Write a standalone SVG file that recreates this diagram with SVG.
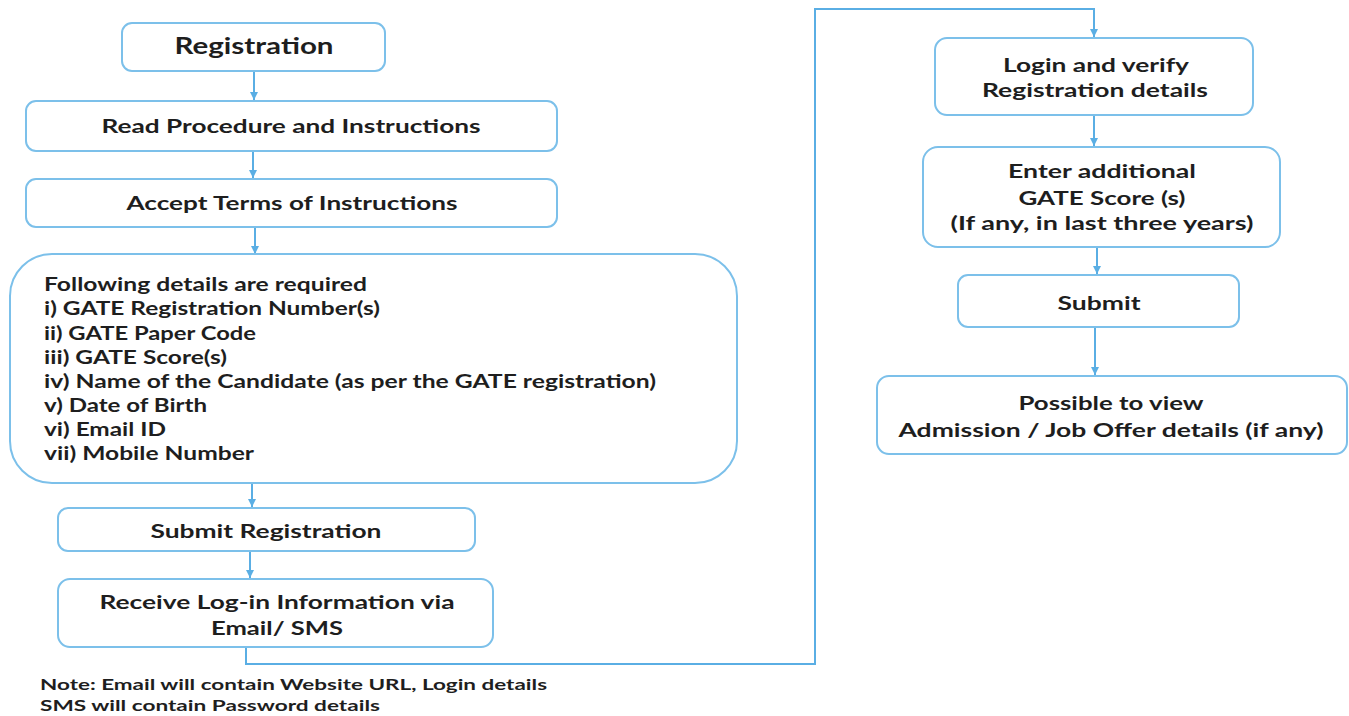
<svg xmlns="http://www.w3.org/2000/svg" width="1349" height="716" viewBox="0 0 1349 716">
<style>
.box{fill:#ffffff;stroke:#7cc0ea;stroke-width:2}
.t{font-family:Lato,"Open Sans","Liberation Sans",sans-serif;font-weight:bold;fill:#1e1e1e;text-anchor:middle}
.l{font-family:Lato,"Open Sans","Liberation Sans",sans-serif;font-weight:bold;fill:#1e1e1e}
.c{fill:none;stroke:#5aaee4;stroke-width:2}
</style>
<defs>
<marker id="ah" viewBox="0 0 10 10" refX="10" refY="5" markerWidth="4" markerHeight="4" orient="auto" markerUnits="strokeWidth">
<path d="M0,0 L10,5 L0,10 z" fill="#5aaee4"/>
</marker>
</defs>
<rect width="1349" height="716" fill="#ffffff"/>
<g id="connectors">
<path class="c" d="M254,71 V100" marker-end="url(#ah)"/>
<path class="c" d="M253,151 V178" marker-end="url(#ah)"/>
<path class="c" d="M255,227 V254" marker-end="url(#ah)"/>
<path class="c" d="M252,483 V507" marker-end="url(#ah)"/>
<path class="c" d="M250,551 V578" marker-end="url(#ah)"/>
<path class="c" d="M246,647 V664 H815 V9 H1094 V37" marker-end="url(#ah)"/>
<path class="c" d="M1094,115 V146" marker-end="url(#ah)"/>
<path class="c" d="M1097,248 V274" marker-end="url(#ah)"/>
<path class="c" d="M1095,327 V375" marker-end="url(#ah)"/>
</g>
<g id="n-registration">
<rect class="box" x="122" y="23" width="263" height="48" rx="10"/>
<text class="t" x="254" y="54" font-size="22" textLength="159" lengthAdjust="spacingAndGlyphs">Registration</text>
</g>
<g id="n-read">
<rect class="box" x="26" y="101" width="531" height="50" rx="10"/>
<text class="t" x="291" y="133" font-size="19.5" textLength="379" lengthAdjust="spacingAndGlyphs">Read Procedure and Instructions</text>
</g>
<g id="n-accept">
<rect class="box" x="26" y="179" width="531" height="48" rx="10"/>
<text class="t" x="292" y="210" font-size="19.5" textLength="331" lengthAdjust="spacingAndGlyphs">Accept Terms of Instructions</text>
</g>
<g id="n-details">
<rect class="box" x="10" y="254" width="727" height="229" rx="42"/>
<text class="l" x="44" y="291" font-size="18" textLength="323" lengthAdjust="spacingAndGlyphs">Following details are required</text>
<text class="l" x="44" y="315" font-size="18" textLength="336" lengthAdjust="spacingAndGlyphs">i) GATE Registration Number(s)</text>
<text class="l" x="44" y="339.5" font-size="18" textLength="212" lengthAdjust="spacingAndGlyphs">ii) GATE Paper Code</text>
<text class="l" x="44" y="363.5" font-size="18" textLength="183" lengthAdjust="spacingAndGlyphs">iii) GATE Score(s)</text>
<text class="l" x="44" y="388" font-size="18" textLength="612" lengthAdjust="spacingAndGlyphs">iv) Name of the Candidate (as per the GATE registration)</text>
<text class="l" x="44" y="412" font-size="18" textLength="163" lengthAdjust="spacingAndGlyphs">v) Date of Birth</text>
<text class="l" x="44" y="436" font-size="18" textLength="122" lengthAdjust="spacingAndGlyphs">vi) Email ID</text>
<text class="l" x="44" y="460" font-size="18" textLength="210" lengthAdjust="spacingAndGlyphs">vii) Mobile Number</text>
</g>
<g id="n-submitreg">
<rect class="box" x="58" y="508" width="417" height="43" rx="10"/>
<text class="t" x="266" y="538" font-size="19" textLength="231" lengthAdjust="spacingAndGlyphs">Submit Registration</text>
</g>
<g id="n-receive">
<rect class="box" x="58" y="579" width="435" height="68" rx="12"/>
<text class="t" x="277" y="609" font-size="19.5" textLength="355" lengthAdjust="spacingAndGlyphs">Receive Log-in Information via</text>
<text class="t" x="277" y="635" font-size="19.5" textLength="132" lengthAdjust="spacingAndGlyphs">Email/ SMS</text>
</g>
<g id="note">
<text class="l" x="40" y="690" font-size="15" textLength="507" lengthAdjust="spacingAndGlyphs">Note: Email will contain Website URL, Login details</text>
<text class="l" x="40" y="711" font-size="15" textLength="340" lengthAdjust="spacingAndGlyphs">SMS will contain Password details</text>
</g>
<g id="n-login">
<rect class="box" x="935" y="38" width="318" height="77" rx="12"/>
<text class="t" x="1096" y="72" font-size="19" textLength="186" lengthAdjust="spacingAndGlyphs">Login and verify</text>
<text class="t" x="1095" y="97" font-size="19" textLength="226" lengthAdjust="spacingAndGlyphs">Registration details</text>
</g>
<g id="n-enter">
<rect class="box" x="923" y="147" width="357" height="100" rx="15"/>
<text class="t" x="1102" y="178" font-size="19" textLength="188" lengthAdjust="spacingAndGlyphs">Enter additional</text>
<text class="t" x="1102" y="205" font-size="19" textLength="167" lengthAdjust="spacingAndGlyphs">GATE Score (s)</text>
<text class="t" x="1102" y="230" font-size="19" textLength="303" lengthAdjust="spacingAndGlyphs">(If any, in last three years)</text>
</g>
<g id="n-submit">
<rect class="box" x="958" y="275" width="281" height="52" rx="10"/>
<text class="t" x="1099" y="310" font-size="19" textLength="83" lengthAdjust="spacingAndGlyphs">Submit</text>
</g>
<g id="n-view">
<rect class="box" x="877" y="376" width="470" height="78" rx="12"/>
<text class="t" x="1111" y="410" font-size="19" textLength="185" lengthAdjust="spacingAndGlyphs">Possible to view</text>
<text class="t" x="1111" y="437" font-size="19" textLength="425" lengthAdjust="spacingAndGlyphs">Admission / Job Offer details (if any)</text>
</g>
</svg>
